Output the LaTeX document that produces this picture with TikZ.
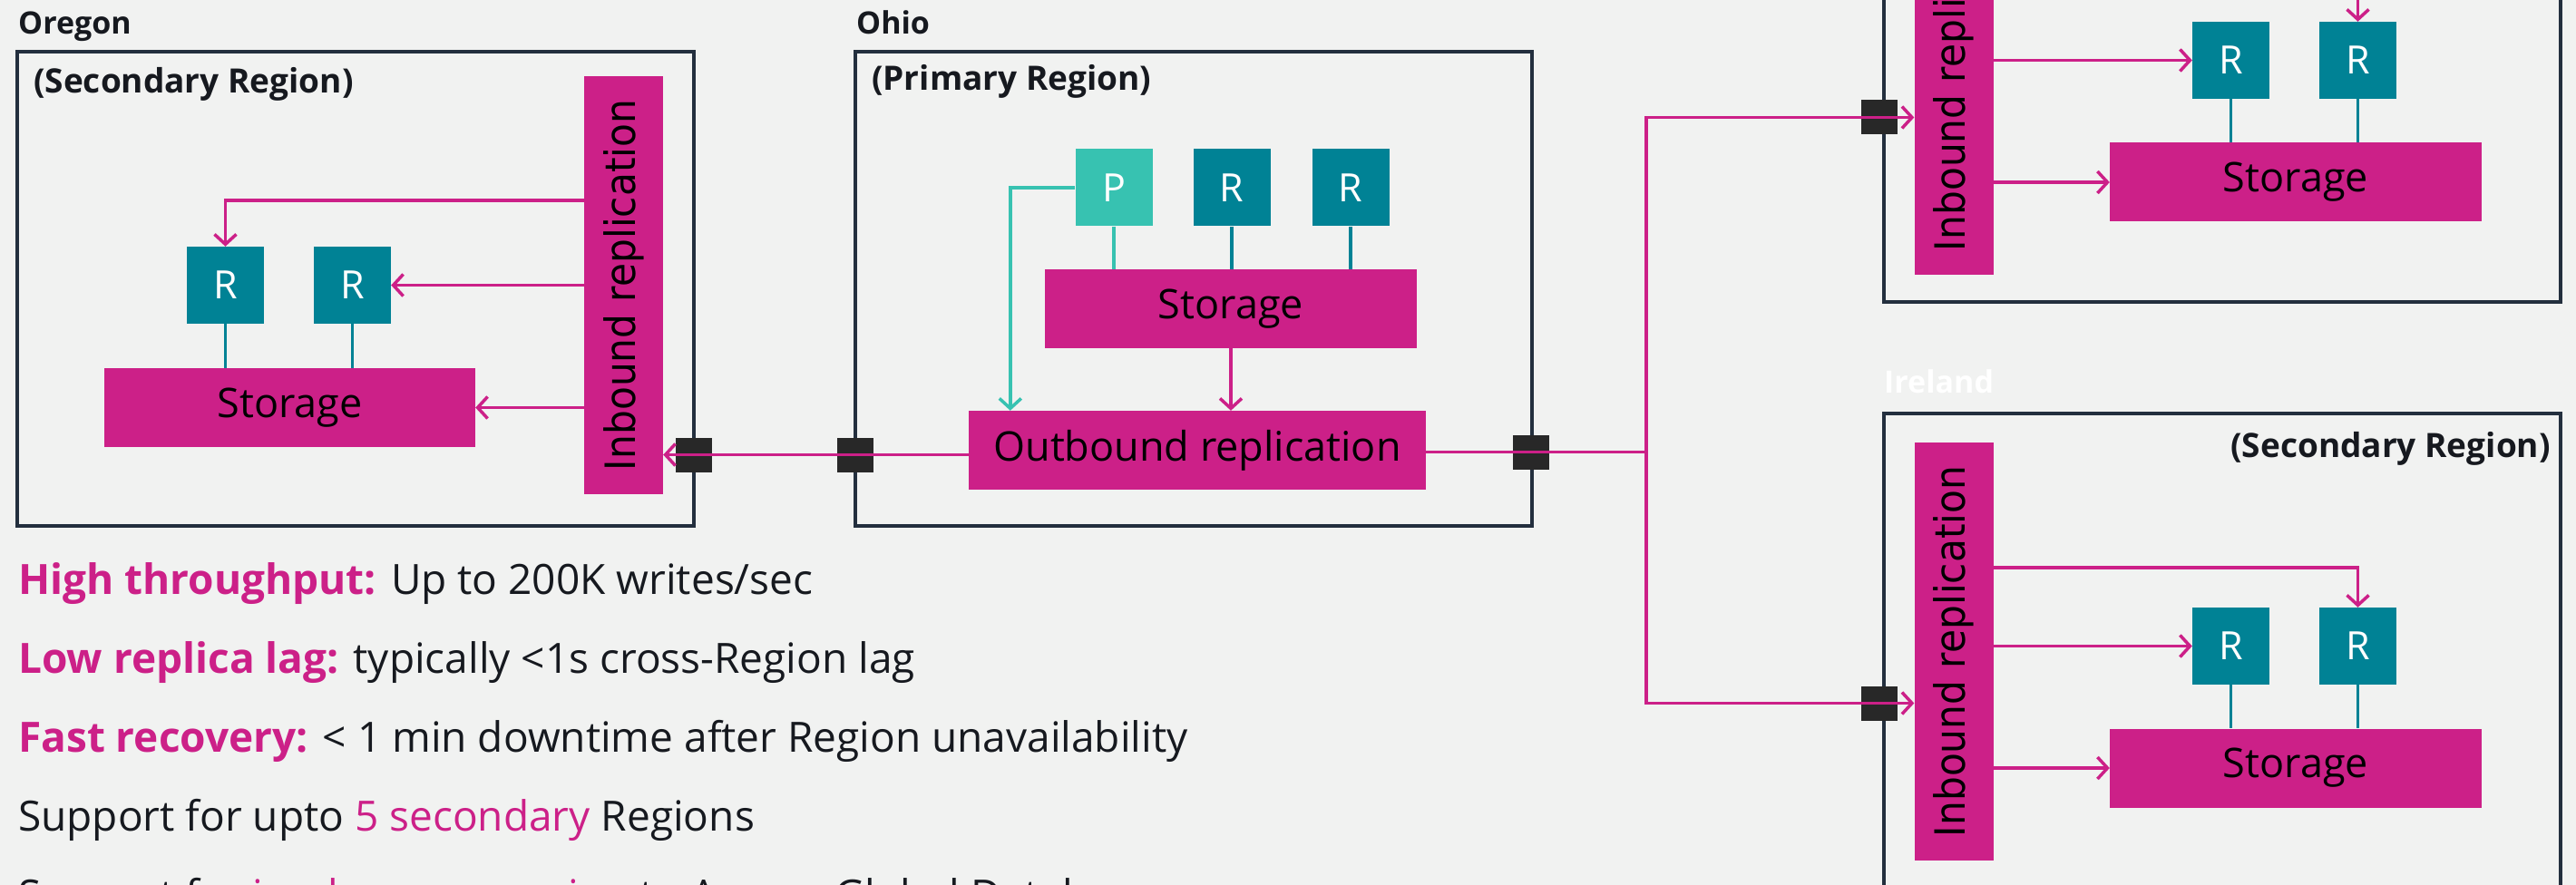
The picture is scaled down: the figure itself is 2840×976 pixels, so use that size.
\documentclass[tikz,border=0pt]{standalone}
\usepackage{fontspec}
\setmainfont{Open Sans}
\newfontfamily\barfont{DejaVu Sans}
\usetikzlibrary{arrows.meta,positioning,calc}

\definecolor{bgcol}{HTML}{F1F2F1}
\definecolor{rose}{HTML}{CC2088}
\definecolor{replica}{HTML}{008295}
\definecolor{primary}{HTML}{37C2B1}
\definecolor{edge}{HTML}{232F3E}
\definecolor{portcol}{HTML}{282828}
\definecolor{ink}{HTML}{16191F}

\begin{document}
\begin{tikzpicture}[x=1pt,y=-1pt,>={Straight Barb[length=11pt,width=24pt]},
    regionbox/.style={draw=edge, line width=4pt, minimum width=746pt, minimum height=523pt, inner sep=0pt},
    inbar/.style={fill=rose, minimum width=87pt, minimum height=461pt, inner sep=0pt,
        text=black, font=\fontsize{46pt}{50pt}\barfont},
    box/.style={fill=rose, minimum height=87pt, inner sep=0pt, text=black, font=\fontsize{45pt}{50pt}\selectfont},
    rep/.style={fill=replica, minimum width=85pt, minimum height=85pt, inner sep=0pt, text=white, font=\fontsize{43pt}{46pt}\selectfont}]
    \tikzset{port/.style={fill=portcol, minimum width=40pt, minimum height=38pt, inner sep=0pt}}
    \tikzset{flow/.style={draw=rose, line width=3.5pt, ->}, link/.style={draw=replica, line width=3.5pt}}
    \tikzset{note/.style={anchor=base west, inner sep=0pt, text=ink, font=\fontsize{46pt}{50pt}\selectfont}}
    \def\inbtext{\rotatebox{90}{\scalebox{0.92}[1]{Inbound replication}}}

    \fill[bgcol] (0,0) rectangle (2840,976);
    \useasboundingbox (0,0) rectangle (2840,976);

    %% Oregon, secondary
    \node[regionbox] (oregon) at (392,318.5) {};
    \node[anchor=base west, inner sep=0pt, text=ink, font=\fontsize{34pt}{38pt}\selectfont\bfseries] (or-name) at (20,38) {Oregon};
    \node[anchor=base west, inner sep=0pt, text=ink, font=\fontsize{37pt}{40pt}\selectfont\bfseries] (or-role) at (37,103) {(Secondary Region)};
    \node[port] (port-or) at (765,501.5) {};
    \node[inbar] (or-in) at (687.5,314.5) {\inbtext};
    \node[rep] (or-r1) at (248.5,314.5) {R};
    \node[rep] (or-r2) at (388.5,314.5) {R};
    \node[box, minimum width=409pt] (or-st) at (319.5,449.5) {Storage};
    \draw[link] (or-r1.south) -- (or-r1.south |- or-st.north);
    \draw[link] (or-r2.south) -- (or-r2.south |- or-st.north);
    \draw[flow] ([yshift=-137pt]or-in.north west) -| (or-r1.north);
    \draw[flow] (or-in.west |- or-r2) -- (or-r2.east);
    \draw[flow] (or-in.west |- or-st) -- (or-st.east);

    %% Ohio, primary
    \node[regionbox] (ohio) at (1315.5,318.5) {};
    \node[anchor=base west, inner sep=0pt, text=ink, font=\fontsize{34pt}{38pt}\selectfont\bfseries] (oh-name) at (944,38) {Ohio};
    \node[anchor=base west, inner sep=0pt, text=ink, font=\fontsize{37pt}{40pt}\selectfont\bfseries] (oh-role) at (961,100) {(Primary Region)};
    \node[port] (port-ohl) at (942.5,501.5) {};
    \node[port] (port-ohr) at (1688,498.5) {};
    \node[rep, fill=primary] (oh-p) at (1228,207) {P};
    \node[rep] (oh-r1) at (1358,207) {R};
    \node[rep] (oh-r2) at (1489,207) {R};
    \node[box, minimum width=410pt] (oh-st) at (1357,340.5) {Storage};
    \node[box, minimum width=504pt] (oh-out) at (1320,496.5) {Outbound replication};
    \draw[link, draw=primary] (oh-p.south) -- (oh-p.south |- oh-st.north);
    \draw[link] (oh-r1.south) -- (oh-r1.south |- oh-st.north);
    \draw[link] (oh-r2.south) -- (oh-r2.south |- oh-st.north);
    \draw[flow, draw=primary] (oh-p.west) -| ([xshift=46pt]oh-out.north west);
    \draw[flow] (oh-st.south) -- (oh-st.south |- oh-out.north);

    %% the two secondaries on the right share one layout
    \foreach \rg/\dy in {top/-646, irl/0} {
    \begin{scope}[shift={(0,\dy)}]
    \node[regionbox] (\rg) at (2450,717) {};
    \node[port] (port-\rg) at (2072,775.5) {};
    \node[inbar] (\rg-in) at (2154,718.5) {\inbtext};
    \node[rep] (\rg-r1) at (2459.5,712.5) {R};
    \node[rep] (\rg-r2) at (2599.5,712.5) {R};
    \node[box, minimum width=410pt] (\rg-st) at (2531,847) {Storage};
    \draw[link] (\rg-r1.south) -- (\rg-r1.south |- \rg-st.north);
    \draw[link] (\rg-r2.south) -- (\rg-r2.south |- \rg-st.north);
    \draw[flow] ([yshift=-138pt]\rg-in.north east) -| (\rg-r2.north);
    \draw[flow] (\rg-in.east |- \rg-r1) -- (\rg-r1.west);
    \draw[flow] (\rg-in.east |- \rg-st) -- (\rg-st.west);
    \end{scope}
    }
    \node[anchor=base west, inner sep=0pt, text=white, font=\fontsize{34pt}{38pt}\selectfont\bfseries] (irl-name) at (2077,433) {Ireland};
    \node[anchor=base east, inner sep=0pt, text=ink, font=\fontsize{37pt}{40pt}\selectfont\bfseries] (irl-role) at (2812,504) {(Secondary Region)};

    %% replication between Regions
    \coordinate (fork) at (1815,498.5);
    \draw[flow] (oh-out.west |- port-ohl) -- (or-in.east |- port-ohl);
    \draw[draw=rose, line width=3.5pt] (oh-out.east |- port-ohr) -- (fork);
    \draw[flow] (fork) |- (top-in.west |- port-top);
    \draw[flow] (fork) |- (irl-in.west |- port-irl);

    %% key points
    \node[note] (pt1) at (20,655) {\textcolor{rose}{\bfseries High throughput:} Up to 200K writes/sec};
    \node[note] (pt2) at (20,742) {\textcolor{rose}{\bfseries Low replica lag:} typically <1s cross-Region lag};
    \node[note] (pt3) at (20,829) {\textcolor{rose}{\bfseries Fast recovery:} < 1 min downtime after Region unavailability};
    \node[note] (pt4) at (20,916) {Support for upto \textcolor{rose}{5 secondary} Regions};
    \node[note] (pt5) at (20,1003) {Support for \textcolor{rose}{in-place conversion} to Aurora Global Database};
\end{tikzpicture}
\end{document}
